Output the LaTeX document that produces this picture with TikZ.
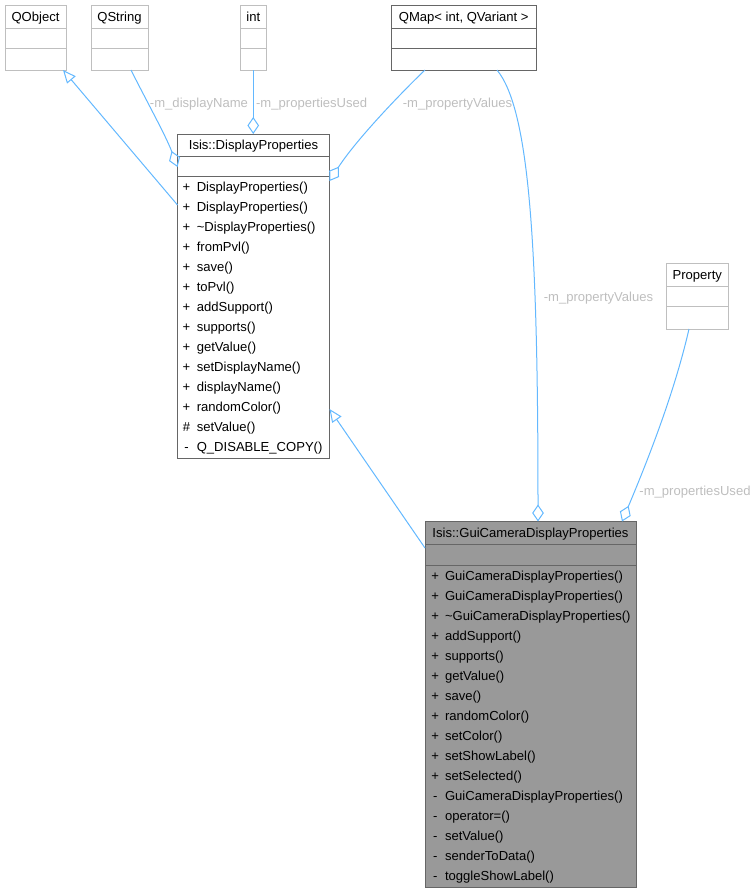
\documentclass[tikz,border=0pt]{standalone}
\usepackage{fontspec}
\setmainfont{Liberation Sans}
\usetikzlibrary{arrows.meta,fit}
\definecolor{edgeblue}{HTML}{63B8FF}
\definecolor{labelgrey}{HTML}{BEBEBE}
\definecolor{lightborder}{HTML}{BFBFBF}
\definecolor{darkborder}{HTML}{666666}
\definecolor{mainfill}{HTML}{999999}
\begin{document}
\begin{tikzpicture}[x=0.75pt,y=-0.75pt,
  umlbox/.style={inner sep=0pt, outer sep=0pt, line width=0.75pt, draw=#1},
  sepline/.style={line width=0.75pt, draw=#1},
  txt/.style={font=\fontsize{9.8pt}{12pt}\selectfont, inner sep=0pt, outer sep=0pt, text=black},
  lbl/.style={font=\fontsize{9.8pt}{12pt}\selectfont, inner sep=0pt, text=labelgrey, anchor=base},
  conn/.style={draw=edgeblue, line width=0.75pt},
  agg/.style={-{Diamond[open,length=12.75pt,width=8.75pt]}},
  inh/.style={-{Triangle[open,length=9.75pt,width=8.4pt]}}
]
\useasboundingbox (0,0) rectangle (755,893);

% ---------- boxes ----------
% QObject
\node[umlbox=lightborder, fit={(5,5) (66,70)}] (qobj) {};
\draw[sepline=lightborder] (5,28) -- (66,28);
\draw[sepline=lightborder] (5,48) -- (66,48);
\node[txt, anchor=base] (qobjT) at (35.5,21) {QObject};

% QString
\node[umlbox=lightborder, fit={(91,5) (148,70)}] (qstr) {};
\draw[sepline=lightborder] (91,28) -- (148,28);
\draw[sepline=lightborder] (91,48) -- (148,48);
\node[txt, anchor=base] (qstrT) at (119.5,21) {QString};

% int
\node[umlbox=lightborder, fit={(240,5) (266.5,70)}] (int) {};
\draw[sepline=lightborder] (240,28) -- (266.5,28);
\draw[sepline=lightborder] (240,48) -- (266.5,48);
\node[txt, anchor=base] (intT) at (253.25,21) {int};

% QMap
\node[umlbox=darkborder, fit={(391.5,5) (536,70)}] (qmap) {};
\draw[sepline=darkborder] (391.5,28) -- (536,28);
\draw[sepline=darkborder] (391.5,48) -- (536,48);
\node[txt, anchor=base] (qmapT) at (463.75,21) {QMap< int, QVariant >};

% Property
\node[umlbox=lightborder, fit={(666.5,263.5) (728,329)}] (prop) {};
\draw[sepline=lightborder] (666.5,286) -- (728,286);
\draw[sepline=lightborder] (666.5,306.5) -- (728,306.5);
\node[txt, anchor=base] (propT) at (697.25,279) {Property};

% Isis::DisplayProperties
\node[umlbox=darkborder, fill=white, fit={(177.5,134) (329.5,458)}] (dp) {};
\draw[sepline=darkborder] (177.5,156) -- (329.5,156);
\draw[sepline=darkborder] (177.5,176.5) -- (329.5,176.5);
\node[txt, anchor=base] (dpT) at (253.5,149.5) {Isis::DisplayProperties};
\foreach \s/\n [count=\i from 0] in {
  +/DisplayProperties(),
  +/DisplayProperties(),
  +/\textasciitilde DisplayProperties(),
  +/fromPvl(),
  +/save(),
  +/toPvl(),
  +/addSupport(),
  +/supports(),
  +/getValue(),
  +/setDisplayName(),
  +/displayName(),
  +/randomColor(),
  \#/setValue(),
  -/Q\_DISABLE\_COPY()}{
  \node[txt, anchor=base] (dpS\i) at (186.5,191.2+20*\i) {\s};
  \node[txt, anchor=base west] (dpN\i) at (196.8,191.2+20*\i) {\n};
}

% Isis::GuiCameraDisplayProperties
\node[umlbox=darkborder, fill=mainfill, fit={(425,521.5) (636,887)}] (gui) {};
\draw[sepline=darkborder] (425,544) -- (636,544);
\draw[sepline=darkborder] (425,565) -- (636,565);
\node[txt, anchor=base] (guiT) at (530.5,537.5) {Isis::GuiCameraDisplayProperties};
\foreach \s/\n [count=\i from 0] in {
  +/GuiCameraDisplayProperties(),
  +/GuiCameraDisplayProperties(),
  +/\textasciitilde GuiCameraDisplayProperties(),
  +/addSupport(),
  +/supports(),
  +/getValue(),
  +/save(),
  +/randomColor(),
  +/setColor(),
  +/setShowLabel(),
  +/setSelected(),
  -/GuiCameraDisplayProperties(),
  -/operator=(),
  -/setValue(),
  -/senderToData(),
  -/toggleShowLabel()}{
  \node[txt, anchor=base] (guiS\i) at (435.3,580.2+20*\i) {\s};
  \node[txt, anchor=base west] (guiN\i) at (445,580.2+20*\i) {\n};
}

% ---------- connectors ----------
% inheritance DisplayProperties -> QObject
\draw[conn, inh] (dp.west |- 0,205) -- (qobj.south -| 63,0);
% QString -> DisplayProperties (aggregation)
\draw[conn, agg] (qstr.south -| 131,0) .. controls (146,100) and (166,136) .. (dp.west |- 0,167);
% int -> DisplayProperties
\draw[conn, agg] (int.south) -- (dp.north -| int.south);
% QMap -> DisplayProperties
\draw[conn, agg] (qmap.south -| 425,0) .. controls (400,94) and (356,140) .. (dp.east |- 0,181);
% QMap -> GuiCamera
\draw[conn, agg] (qmap.south -| 497,0) .. controls (530,110) and (538,250) .. (gui.north -| 538,0);
% Property -> GuiCamera
\draw[conn, agg] (prop.south -| 689,0) .. controls (675,390) and (650,455) .. (gui.north -| 622,0);
% inheritance GuiCamera -> DisplayProperties
\draw[conn, inh] (gui.west |- 0,548) -- (dp.east |- 0,409);

% ---------- edge labels ----------
\node[lbl] (l1) at (199,107) {-m\_displayName};
\node[lbl] (l2) at (311.7,107) {-m\_propertiesUsed};
\node[lbl] (l3) at (457.5,107) {-m\_propertyValues};
\node[lbl] (l4) at (598.5,301) {-m\_propertyValues};
\node[lbl] (l5) at (695,495) {-m\_propertiesUsed};
\end{tikzpicture}
\end{document}
